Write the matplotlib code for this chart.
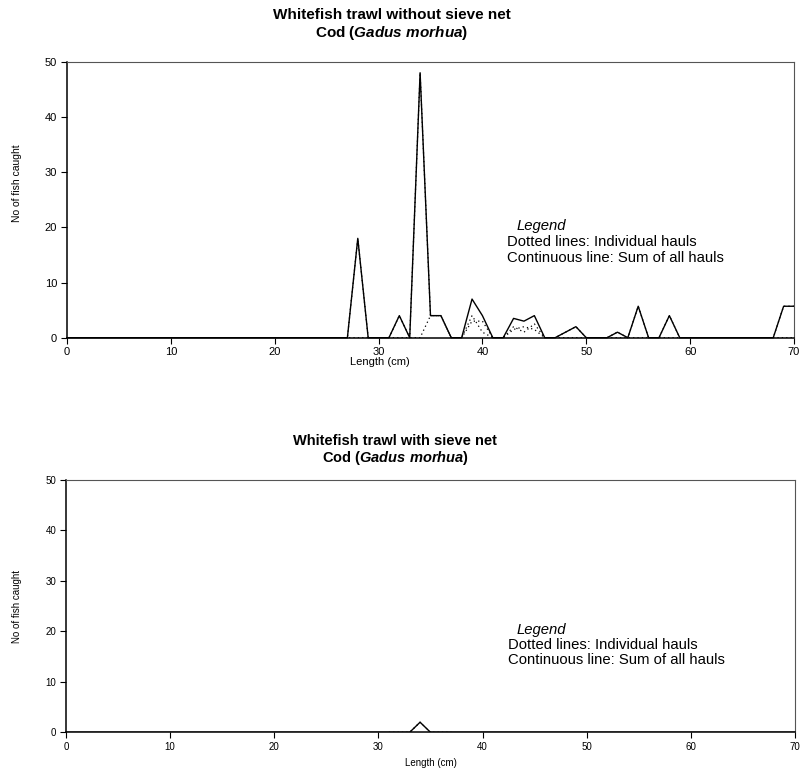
import numpy as np
import matplotlib
matplotlib.use("Agg")
from matplotlib import pyplot as plt

plt.rcParams['font.family'] = ['Liberation Sans', 'DejaVu Sans']
plt.rcParams['mathtext.fontset'] = 'custom'
plt.rcParams['mathtext.it'] = 'Liberation Sans:bold:italic'
plt.rcParams['mathtext.rm'] = 'Liberation Sans:bold'

# length classes (cm)
lengths = np.arange(0, 71)
haul_lengths = np.arange(20, 71)

# trawl without sieve net - sum of all hauls (0..70 cm)
total_nosieve = [0, 0, 0, 0, 0, 0, 0, 0, 0, 0,
                 0, 0, 0, 0, 0, 0, 0, 0, 0, 0,
                 0, 0, 0, 0, 0, 0, 0, 0, 18, 0,
                 0, 0, 4, 0, 48, 4, 4, 0, 0, 7,
                 4, 0, 0, 3.5, 3, 4, 0, 0, 1, 2,
                 0, 0, 0, 1, 0, 5.7, 0, 0, 4, 0,
                 0, 0, 0, 0, 0, 0, 0, 0, 0, 5.7,
                 5.7]

# individual hauls (20..70 cm)
haul1_nosieve = [0, 0, 0, 0, 0, 0, 0, 0, 18, 0,
                 0, 0, 4, 0, 48, 4, 4, 0, 0, 4,
                 1, 0, 0, 2, 1, 2.5, 0, 0, 1, 2,
                 0, 0, 0, 1, 0, 5.7, 0, 0, 4, 0,
                 0, 0, 0, 0, 0, 0, 0, 0, 0, 5.7,
                 5.7]
haul2_nosieve = [0, 0, 0, 0, 0, 0, 0, 0, 0, 0,
                 0, 0, 0, 0, 0, 4, 4, 0, 0, 3,
                 3, 0, 0, 1.5, 2, 1.5, 0, 0, 0, 0,
                 0, 0, 0, 0, 0, 0, 0, 0, 0, 0,
                 0, 0, 0, 0, 0, 0, 0, 0, 0, 0,
                 0]

# trawl with sieve net
total_sieve = [0] * 34 + [2] + [0] * 36
haul_sieve_lengths = np.arange(31, 38)
haul1_sieve = [0, 0, 0, 2, 0, 0, 0]

W, H = 803, 776
fig = plt.figure(figsize=(W / 100, H / 100), dpi=100)


def style_axes(ax, fs):
    ax.set_xlim(0, 70)
    ax.set_ylim(0, 50)
    ax.set_xticks(range(0, 71, 10))
    ax.set_yticks(range(0, 51, 10))
    ax.tick_params(direction='out', length=4, width=0.8, labelsize=fs, pad=3)
    for s in ['left', 'bottom']:
        ax.spines[s].set_linewidth(1.1)
    for s in ['top', 'right']:
        ax.spines[s].set_linewidth(0.8)
        ax.spines[s].set_color('#555555')


def legend_text(ax, fs):
    ax.text(43.3, 20.3, 'Legend', fontsize=fs, style='italic', va='center')
    ax.text(42.4, 17.3, 'Dotted lines: Individual hauls', fontsize=fs, va='center')
    ax.text(42.4, 14.4, 'Continuous line: Sum of all hauls', fontsize=fs, va='center')


# top panel
ax1 = fig.add_axes([0.0834, 0.5648, 0.9054, 0.3557])
ax1.plot(haul_lengths, haul1_nosieve, color='black', lw=0.9, ls=(0, (1, 2.5)))
ax1.plot(haul_lengths, haul2_nosieve, color='black', lw=0.9, ls=(0, (1, 2.5)))
ax1.plot(lengths, total_nosieve, color='black', lw=1.0, clip_on=False)
style_axes(ax1, 8)
ax1.set_xlabel('Length (cm)', fontsize=8)
ax1.xaxis.set_label_coords((380 - 67) / 727, -0.07)
ax1.set_ylabel('No of fish caught', fontsize=7.5)
ax1.yaxis.set_label_coords(-0.062, 0.56)
fig.text(392 / W, 1 - 15 / H, 'Whitefish trawl without sieve net',
         fontsize=11, fontweight='bold', ha='center', va='center')
fig.text(392 / W, 1 - 33 / H, 'Cod ($\\mathit{Gadus\\ morhua}$)',
         fontsize=11, fontweight='bold', ha='center', va='center')
legend_text(ax1, 10.7)

# bottom panel
ax2 = fig.add_axes([0.0822, 0.0563, 0.9078, 0.3251])
ax2.plot(haul_sieve_lengths, haul1_sieve, color='black', lw=0.9, ls=(0, (1, 2.5)))
ax2.plot(lengths, total_sieve, color='black', lw=1.0)
style_axes(ax2, 7)
ax2.set_xlabel('Length (cm)', fontsize=7, labelpad=4)
ax2.set_ylabel('No of fish caught', fontsize=7)
ax2.yaxis.set_label_coords(-0.06, 0.5)
fig.text(395 / W, 1 - 441 / H, 'Whitefish trawl with sieve net',
         fontsize=10.5, fontweight='bold', ha='center', va='center')
fig.text(395 / W, 1 - 458 / H, 'Cod ($\\mathit{Gadus\\ morhua}$)',
         fontsize=10.5, fontweight='bold', ha='center', va='center')
legend_text(ax2, 10.7)

fig.savefig('out.png', dpi=100)
